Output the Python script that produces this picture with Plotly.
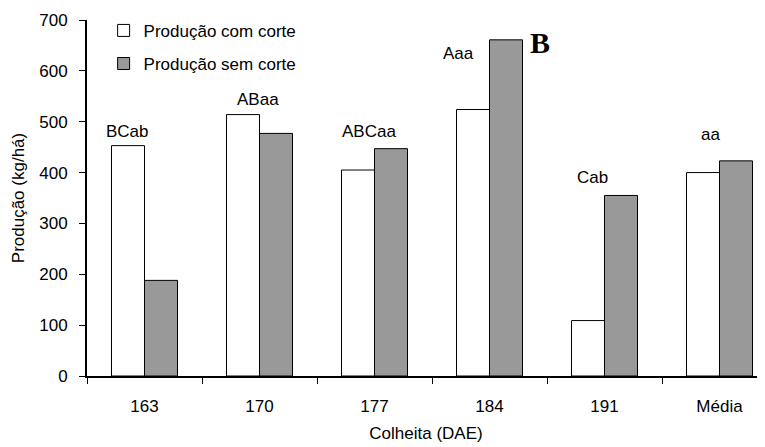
import plotly.graph_objects as go

categories = ["163", "170", "177", "184", "191", "Média"]
com_corte = [453, 514, 405, 524, 109, 400]
sem_corte = [188, 477, 447, 661, 355, 423]
labels = ["BCab", "ABaa", "ABCaa", "Aaa", "Cab", "aa"]
label_y = [480, 543, 480, 635, 390, 474]
label_dx = [-17, -2, -6, -31, -12, -9]

FONT = "Liberation Sans, Arial, sans-serif"

fig = go.Figure()
fig.add_trace(go.Bar(x=categories, y=com_corte, name="Produção com corte",
                     marker=dict(color="white", line=dict(color="black", width=1)),
                     legendgroup="a"))
fig.add_trace(go.Bar(x=categories, y=sem_corte, name="Produção sem corte",
                     marker=dict(color="#999999", line=dict(color="black", width=1)),
                     legendgroup="b"))

for i, (t, yv, dx) in enumerate(zip(labels, label_y, label_dx)):
    fig.add_annotation(x=i, y=yv, text=t, showarrow=False, xshift=dx,
                       font=dict(family=FONT, size=17, color="black"))

fig.add_annotation(x=categories.index("184"), y=655, text="<b>B</b>", showarrow=False, xshift=50,
                   font=dict(family="Liberation Serif, Times New Roman, serif", size=30, color="black"))

fig.update_layout(
    width=757, height=439,
    margin=dict(l=79, r=0, t=12, b=71),
    paper_bgcolor="white", plot_bgcolor="white",
    barmode="group", bargap=0.426, bargroupgap=0,
    font=dict(family=FONT, size=17, color="black"),
    showlegend=True,
    legend=dict(x=0.0245, y=1.02, xanchor="left", yanchor="top",
                bgcolor="rgba(0,0,0,0)", font=dict(size=17),
                tracegroupgap=8, itemwidth=30),
    xaxis=dict(type="category", range=[-0.5, -0.5 + 678 / 115],
               showline=True, linecolor="black", linewidth=2,
               ticks="outside", tickson="boundaries", ticklen=6, tickcolor="black", tickwidth=1,
               ticklabelstandoff=14,
               showgrid=False, zeroline=False,
               title=dict(text="Colheita (DAE)", font=dict(size=17), standoff=12),
               tickfont=dict(size=17)),
    yaxis=dict(range=[0, 700], tickvals=[0, 100, 200, 300, 400, 500, 600, 700],
               showline=True, linecolor="black", linewidth=2,
               ticks="outside", ticklen=6, tickcolor="black", tickwidth=1,
               ticklabelstandoff=8,
               showgrid=False, zeroline=False,
               title=dict(text="Produção (kg/há)", font=dict(size=17), standoff=10),
               tickfont=dict(size=17)),
)

fig.write_html("out.html")
